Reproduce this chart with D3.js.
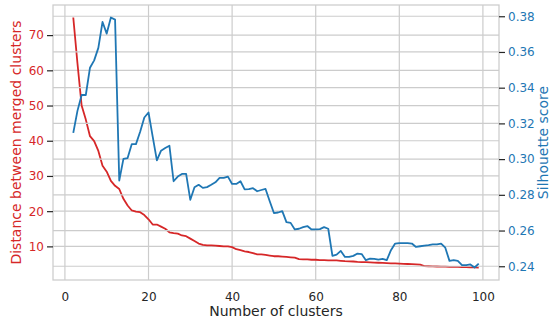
<!DOCTYPE html>
<html>
<head>
<meta charset="utf-8">
<script src="https://cdn.jsdelivr.net/npm/d3@7"></script>
<style>
  body { margin: 0; background: #fff; }
  svg text { font-family: "DejaVu Sans", sans-serif; }
</style>
</head>
<body>
<div id="chart"></div>
<script>
// number of clusters on the x axis
var clusterCounts = d3.range(2, 100);

// distance between merged clusters (left axis, red)
var mergeDistance = [
    75.0, 62.0, 50.0, 46.0, 41.3, 39.9, 37.1, 32.9, 31.2, 28.6,
    27.2, 26.3, 23.5, 21.6, 20.2, 19.9, 19.7, 18.9, 17.7, 16.2,
    16.2, 15.6, 15.0, 14.0, 13.75, 13.6, 13.1, 12.9, 12.2, 11.5,
    10.8, 10.4, 10.3, 10.3, 10.2, 10.1, 10.0, 10.0, 9.8, 9.2,
    8.9, 8.6, 8.4, 8.1, 7.75, 7.7, 7.6, 7.4, 7.2, 7.2,
    7.1, 7.0, 6.9, 6.8, 6.4, 6.3, 6.3, 6.2, 6.2, 6.1,
    6.1, 6.05, 6.0, 6.0, 5.9, 5.8, 5.75, 5.7, 5.6, 5.55,
    5.5, 5.45, 5.4, 5.35, 5.3, 5.25, 5.2, 5.15, 5.1, 5.05,
    5.0, 4.95, 4.9, 4.8, 4.4, 4.35, 4.3, 4.28, 4.25, 4.22,
    4.2, 4.18, 4.15, 4.12, 4.1, 4.07, 4.05, 4.0
];

// silhouette score (right axis, blue)
var silhouette = [
    0.3147, 0.3270, 0.3359, 0.3359, 0.3512, 0.3553, 0.3623, 0.3768, 0.3703, 0.3793,
    0.3781, 0.2880, 0.3001, 0.3006, 0.3084, 0.3084, 0.3153, 0.3233, 0.3261, 0.3126,
    0.2993, 0.3047, 0.3062, 0.3075, 0.2876, 0.2902, 0.2917, 0.2917, 0.2772, 0.2842,
    0.2856, 0.2839, 0.2843, 0.2856, 0.2870, 0.2895, 0.2895, 0.2902, 0.2861, 0.2861,
    0.2876, 0.2830, 0.2832, 0.2837, 0.2820, 0.2827, 0.2833, 0.2764, 0.2698, 0.2701,
    0.2709, 0.2647, 0.2643, 0.2606, 0.2610, 0.2619, 0.2625, 0.2606, 0.2606, 0.2608,
    0.2619, 0.2610, 0.2458, 0.2465, 0.2486, 0.2452, 0.2452, 0.2458, 0.2471, 0.2468,
    0.2434, 0.2443, 0.2441, 0.2437, 0.2441, 0.2434, 0.2490, 0.2527, 0.2530, 0.2530,
    0.2530, 0.2527, 0.2508, 0.2512, 0.2516, 0.2518, 0.2522, 0.2523, 0.2527, 0.2504,
    0.2430, 0.2434, 0.2430, 0.2406, 0.2406, 0.2410, 0.2393, 0.2415
];

var xTicks = [0, 20, 40, 60, 80, 100];
var leftTicks = [10, 20, 30, 40, 50, 60, 70];
var rightTicks = [0.24, 0.26, 0.28, 0.30, 0.32, 0.34, 0.36, 0.38];

var red = "#d62728", blue = "#1f77b4", textColor = "#262626", gridColor = "#cccccc";

var W = 551, H = 322;
var margin = { top: 5, right: 52, bottom: 42, left: 53 };
var width = W - margin.left - margin.right;
var height = H - margin.top - margin.bottom;

function padded(ext) {
    var r = ext[1] - ext[0];
    return [ext[0] - 0.05 * r, ext[1] + 0.05 * r];
}

var xScale = d3.scaleLinear()
    .domain(padded(d3.extent(clusterCounts)))
    .range([0, width]);
var yLeft = d3.scaleLinear()
    .domain(padded(d3.extent(mergeDistance)))
    .range([height, 0]);
var yRight = d3.scaleLinear()
    .domain(padded(d3.extent(silhouette)))
    .range([height, 0]);

var svg = d3.select("#chart").append("svg")
    .attr("width", W)
    .attr("height", H)
    .append("g")
    .attr("transform", "translate(" + margin.left + "," + margin.top + ")");

// grid of first axes
svg.append("g").selectAll("line.vg")
    .data(xTicks)
    .enter().append("line")
    .attr("x1", function (d) { return xScale(d); })
    .attr("x2", function (d) { return xScale(d); })
    .attr("y1", 0).attr("y2", height)
    .attr("stroke", gridColor).attr("stroke-width", 1.2);

svg.append("g").selectAll("line")
    .data(leftTicks)
    .enter().append("line")
    .attr("x1", 0).attr("x2", width)
    .attr("y1", function (d) { return yLeft(d); })
    .attr("y2", function (d) { return yLeft(d); })
    .attr("stroke", gridColor).attr("stroke-width", 1.2);

var redLine = d3.line()
    .x(function (d, i) { return xScale(clusterCounts[i]); })
    .y(function (d) { return yLeft(d); });

svg.append("path")
    .datum(mergeDistance)
    .attr("fill", "none")
    .attr("stroke", red)
    .attr("stroke-width", 1.8)
    .attr("stroke-linejoin", "round")
    .attr("d", redLine);

// grid of twin axes (drawn above the red line)
svg.append("g").selectAll("line")
    .data(rightTicks)
    .enter().append("line")
    .attr("x1", 0).attr("x2", width)
    .attr("y1", function (d) { return yRight(d); })
    .attr("y2", function (d) { return yRight(d); })
    .attr("stroke", gridColor).attr("stroke-width", 1.2);

var blueLine = d3.line()
    .x(function (d, i) { return xScale(clusterCounts[i]); })
    .y(function (d) { return yRight(d); });

svg.append("path")
    .datum(silhouette)
    .attr("fill", "none")
    .attr("stroke", blue)
    .attr("stroke-width", 1.8)
    .attr("stroke-linejoin", "round")
    .attr("d", blueLine);

// spines
svg.append("rect")
    .attr("width", width).attr("height", height)
    .attr("fill", "none")
    .attr("stroke", gridColor).attr("stroke-width", 1.25);

// axes
var xAxis = svg.append("g")
    .attr("transform", "translate(0," + height + ")")
    .call(d3.axisBottom(xScale).tickValues(xTicks).tickSize(0).tickPadding(12).tickFormat(d3.format("d")));

var leftAxis = svg.append("g")
    .call(d3.axisLeft(yLeft).tickValues(leftTicks).tickSize(6).tickPadding(3).tickFormat(d3.format("d")));

var rightAxis = svg.append("g")
    .attr("transform", "translate(" + width + ",0)")
    .call(d3.axisRight(yRight).tickValues(rightTicks).tickSize(6).tickPadding(3).tickFormat(d3.format(".2f")));

[xAxis, leftAxis, rightAxis].forEach(function (a) {
    a.select(".domain").remove();
    a.selectAll("text").style("font-size", "12px").attr("font-family", "DejaVu Sans");
    a.selectAll("line").attr("stroke", textColor).attr("stroke-width", 1.2);
});
xAxis.selectAll("text").attr("fill", textColor);
leftAxis.selectAll("text").attr("fill", red);
rightAxis.selectAll("text").attr("fill", blue);

// axis titles
svg.append("text")
    .attr("x", width / 2)
    .attr("y", height + 36)
    .style("text-anchor", "middle")
    .style("font-size", "14px")
    .attr("fill", textColor)
    .text("Number of clusters");

svg.append("text")
    .attr("transform", "translate(" + (-32.5) + "," + (height / 2) + ") rotate(-90)")
    .style("text-anchor", "middle")
    .style("font-size", "14px")
    .attr("fill", red)
    .text("Distance between merged clusters");

svg.append("text")
    .attr("transform", "translate(" + (width + 49) + "," + (height / 2) + ") rotate(-90)")
    .style("text-anchor", "middle")
    .style("font-size", "14px")
    .attr("fill", blue)
    .text("Silhouette score");
</script>
</body>
</html>
